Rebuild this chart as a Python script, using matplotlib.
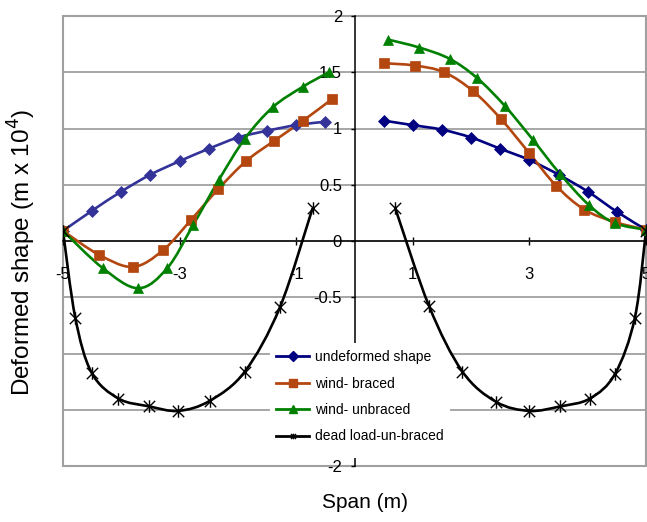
import matplotlib
matplotlib.use("Agg")
import matplotlib.pyplot as plt
import numpy as np
from matplotlib.path import Path
from matplotlib.patches import PathPatch, Rectangle
from matplotlib.lines import Line2D

plt.rcParams['font.family'] = ['Liberation Sans', 'DejaVu Sans']

# data
und_x_left = [-5, -4.5, -4, -3.5, -3, -2.5, -2, -1.5, -1, -0.5]
und_y_left = [0.09, 0.27, 0.44, 0.59, 0.71, 0.82, 0.92, 0.98, 1.03, 1.06]
und_x_right = [0.5, 1, 1.5, 2, 2.5, 3, 3.5, 4, 4.5, 5]
und_y_right = [1.07, 1.03, 0.99, 0.92, 0.82, 0.72, 0.59, 0.44, 0.26, 0.10]

br_x_left = [-5, -4.39, -3.8, -3.28, -2.8, -2.34, -1.86, -1.38, -0.88, -0.39]
br_y_left = [0.09, -0.12, -0.23, -0.08, 0.19, 0.46, 0.71, 0.89, 1.07, 1.26]
br_x_right = [0.51, 1.03, 1.54, 2.04, 2.52, 3.0, 3.46, 3.94, 4.46, 5.0]
br_y_right = [1.58, 1.56, 1.50, 1.33, 1.08, 0.78, 0.49, 0.28, 0.17, 0.10]

ub_x_left = [-5, -4.32, -3.71, -3.21, -2.77, -2.33, -1.88, -1.40, -0.89, -0.44]
ub_y_left = [0.09, -0.24, -0.42, -0.24, 0.14, 0.54, 0.91, 1.19, 1.37, 1.50]
ub_x_right = [0.58, 1.11, 1.63, 2.10, 2.58, 3.06, 3.52, 4.02, 4.46, 5.0]
ub_y_right = [1.79, 1.72, 1.62, 1.45, 1.20, 0.90, 0.60, 0.32, 0.16, 0.10]

dl_x_left = [-5, -4.79, -4.51, -4.05, -3.52, -3.02, -2.48, -1.88, -1.28, -0.72]
dl_y_left = [0.09, -0.68, -1.17, -1.40, -1.47, -1.51, -1.42, -1.16, -0.59, 0.29]
dl_x_right = [0.70, 1.28, 1.85, 2.43, 3.0, 3.53, 4.04, 4.47, 4.81, 5.0]
dl_y_right = [0.29, -0.58, -1.16, -1.43, -1.51, -1.47, -1.40, -1.18, -0.68, 0.09]

labels = ['undeformed shape', 'wind- braced', 'wind- unbraced', 'dead load-un-braced']
yticks = [-2, -1.5, -1, -0.5, 0, 0.5, 1, 1.5, 2]
# -1 and -1.5 sit under the legend in the original, so they are not shown
ytick_labels = ['-2', '', '', '-0.5', '0', '0.5', '1', '1.5', '2']
xticks = [-5, -3, -1, 1, 3, 5]

# excel-like star marker (x with a vertical bar)
star = Path([(-1, -1), (1, 1), (-1, 1), (1, -1), (0, -1.1), (0, 1.1)],
            [Path.MOVETO, Path.LINETO, Path.MOVETO, Path.LINETO, Path.MOVETO, Path.LINETO])


def smooth_path(xs, ys):
    # bezier through the points, like excel's smoothed line
    p = np.column_stack([xs, ys]).astype(float)
    n = len(p)
    verts = [p[0]]
    codes = [Path.MOVETO]
    for i in range(n - 1):
        p0 = p[i - 1] if i > 0 else p[i]
        p3 = p[i + 2] if i + 2 < n else p[i + 1]
        c1 = p[i] + (p[i + 1] - p0) / 6.0
        c2 = p[i + 1] - (p3 - p[i]) / 6.0
        verts += [c1, c2, p[i + 1]]
        codes += [Path.CURVE4] * 3
    return Path(verts, codes)


fig = plt.figure(figsize=(6.47, 5.22), dpi=100)
ax = fig.add_axes([63 / 647, 56 / 522, 583 / 647, 450 / 522])
ax.set_xlim(-5, 5)
ax.set_ylim(-2, 2)

series = [
    (und_x_left, und_y_left, '#333399', 'D', 6, None),
    (und_x_right, und_y_right, '#000080', 'D', 6, None),
    (br_x_left, br_y_left, '#B4470F', 's', 6.5, None),
    (br_x_right, br_y_right, '#B4470F', 's', 6.5, None),
    (ub_x_left, ub_y_left, '#008000', '^', 7.5, None),
    (ub_x_right, ub_y_right, '#008000', '^', 7.5, None),
    (dl_x_left, dl_y_left, 'black', star, 9, 1.0),
    (dl_x_right, dl_y_right, 'black', star, 9, 1.0),
]
for xs, ys, col, mk, ms, mew in series:
    ax.add_patch(PathPatch(smooth_path(xs, ys), fill=False, edgecolor=col, lw=1.9, zorder=3))
    ax.plot(xs, ys, linestyle='none', marker=mk, ms=ms, color=col,
            markeredgewidth=mew if mew else 0.5, zorder=4)

# axes through the origin
for s in ['top', 'right']:
    ax.spines[s].set_visible(False)
ax.spines['left'].set_position(('data', 0))
ax.spines['bottom'].set_position(('data', 0))
ax.spines['left'].set_linewidth(1.1)
ax.spines['bottom'].set_linewidth(1.1)

ax.set_yticks(yticks)
ax.set_yticklabels(ytick_labels)
ax.set_xticks(xticks)
ax.set_xticklabels([str(v) for v in xticks])
ax.tick_params(axis='y', direction='out', length=3, width=1, pad=6, labelsize=12)
ax.tick_params(axis='x', direction='inout', length=6, width=1, pad=16, labelsize=12)
ax.yaxis.grid(True, color='#A0A0A0', lw=1.3)

# plot area border
ax.add_patch(Rectangle((0, 0), 1, 1, transform=ax.transAxes, fill=False,
                       edgecolor='#A0A0A0', lw=1.5, clip_on=False, zorder=1))

# white legend area
ax.add_patch(Rectangle((270 / 647, 64 / 522), 180 / 647, 115 / 522, transform=fig.transFigure,
                       facecolor='white', edgecolor='none', clip_on=False, zorder=2.7))

handles = [
    Line2D([], [], color='#000080', marker='D', ms=5, lw=2),
    Line2D([], [], color='#B4470F', marker='s', ms=5.5, lw=2),
    Line2D([], [], color='#008000', marker='^', ms=6, lw=2),
    Line2D([], [], color='black', marker=star, ms=4, mew=1, lw=2),
]
leg = fig.legend(handles, labels, loc='upper left', bbox_to_anchor=(276 / 647, 1 - 350 / 522),
                 frameon=False, fontsize=10, handlelength=2.4, handletextpad=0.4,
                 labelspacing=0.9, borderpad=0, borderaxespad=0)
leg.set_zorder(6)

fig.text(365 / 647, 1 - 502 / 522, 'Span (m)', ha='center', va='center', fontsize=15)
fig.text(22 / 647, 1 - 252 / 522, 'Deformed shape (m x 10$^4$)', ha='center', va='center',
         rotation=90, fontsize=17.5)

fig.savefig('out.png', dpi=100)
